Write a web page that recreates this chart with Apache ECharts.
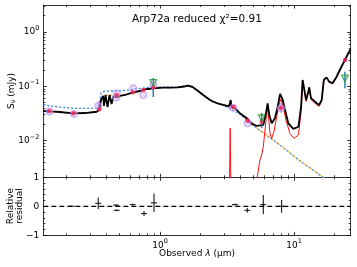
<!DOCTYPE html>
<html><head><meta charset="utf-8">
<script src="https://cdn.jsdelivr.net/npm/echarts@6/dist/echarts.min.js"></script>
<style>html,body{margin:0;padding:0;background:#fff}#c{width:357px;height:267px}</style>
</head><body><div id="c"></div>
<script>
// ---- data (wavelength in micron, flux in mJy) ----
const blackSed = [[0.135,0.0351],[0.151,0.0344],[0.179,0.0336],[0.224,0.0318],[0.275,0.0322],[0.337,0.0340],[0.351,0.0366],[0.363,0.0560],[0.376,0.0663],[0.382,0.0434],[0.392,0.0692],[0.406,0.0416],[0.420,0.0692],[0.435,0.0472],[0.450,0.0663],[0.475,0.0627],[0.503,0.0663],[0.548,0.0692],[0.597,0.0743],[0.651,0.0785],[0.709,0.0819],[0.747,0.0855],[0.813,0.0892],[0.887,0.0918],[1.05,0.0942],[1.19,0.0942],[1.36,0.0959],[1.51,0.0991],[1.62,0.1026],[1.73,0.0991],[1.88,0.0855],[2.10,0.0692],[2.36,0.0560],[2.50,0.0520],[2.57,0.0492],[2.71,0.0482],[2.97,0.0453],[3.27,0.0425],[3.33,0.0423],[3.37,0.0560],[3.41,0.0421],[3.45,0.0419],[3.69,0.0382],[3.95,0.0318],[4.44,0.0258],[4.83,0.0208],[5.27,0.0186],[5.90,0.0194],[6.18,0.0322],[6.36,0.0486],[6.54,0.0296],[6.82,0.0208],[7.21,0.0258],[7.56,0.0421],[7.87,0.0722],[8.24,0.0560],[8.57,0.0366],[9.07,0.0208],[9.88,0.0164],[10.8,0.0180],[11.3,0.0421],[11.6,0.131],[11.9,0.0918],[12.3,0.0560],[12.7,0.0743],[13.0,0.0959],[13.4,0.0601],[13.9,0.0560],[14.8,0.0486],[15.4,0.0453],[16.1,0.0560],[16.7,0.131],[17.5,0.146],[18.3,0.122],[19.4,0.114],[20.8,0.150],[22.3,0.215],[24.0,0.305],[25.4,0.405],[26.5,0.480]];
const dustSed = [[3.0,0.0005],[3.28,0.0008],[3.30,0.0015],[3.34,0.0169],[3.38,0.0015],[3.40,0.0008],[4.0,0.0006],[5.0,0.0009],[5.32,0.0021],[5.42,0.00287],[5.57,0.00439],[5.74,0.00543],[5.90,0.00773],[6.08,0.0157],[6.32,0.0421],[6.50,0.0240],[6.62,0.0136],[6.82,0.0110],[7.09,0.0146],[7.43,0.0276],[7.77,0.0486],[8.0,0.0580],[8.32,0.0421],[8.71,0.0240],[9.33,0.0136],[10.0,0.0110],[10.8,0.0127],[11.3,0.0340],[11.6,0.124],[11.9,0.0870],[12.3,0.0525],[12.7,0.0710],[13.0,0.0920],[13.4,0.0570],[13.9,0.0525],[14.8,0.0455],[15.4,0.0430],[16.1,0.0540],[16.7,0.128],[17.5,0.143],[18.3,0.119],[19.4,0.111],[20.8,0.147],[22.3,0.212],[24.0,0.302],[25.4,0.402],[26.5,0.477]];
const stellarAtt = [[0.135,0.0351],[0.151,0.0344],[0.179,0.0336],[0.224,0.0318],[0.275,0.0322],[0.337,0.0340],[0.351,0.0366],[0.363,0.0560],[0.376,0.0663],[0.406,0.0690],[0.435,0.0680],[0.475,0.0650],[0.503,0.0663],[0.548,0.0692],[0.597,0.0743],[0.651,0.0785],[0.709,0.0819],[0.747,0.0855],[0.813,0.0892],[0.887,0.0918],[1.05,0.0942],[1.19,0.0942],[1.36,0.0959],[1.51,0.0991],[1.62,0.1026],[1.73,0.0991],[1.88,0.0855],[2.10,0.0692],[2.36,0.0560],[2.57,0.0492],[2.97,0.0453],[3.45,0.0410],[3.95,0.0318],[4.69,0.0208],[6.08,0.0132],[7.87,0.0083],[11.1,0.00421],[16.5,0.00211],[26.6,0.000915]];
const stellarUnatt = [[0.135,0.0466],[0.151,0.0434],[0.179,0.0416],[0.224,0.0394],[0.275,0.0391],[0.338,0.0398],[0.354,0.0492],[0.363,0.0753],[0.376,0.0802],[0.424,0.0819],[0.475,0.0819],[0.548,0.0837],[0.651,0.0892],[0.773,0.0931],[0.887,0.0971],[1.05,0.0963],[1.36,0.0971],[1.62,0.1035],[1.88,0.0862],[2.36,0.0564],[2.97,0.0447],[3.95,0.0309],[4.69,0.0208],[6.08,0.0132],[7.87,0.0083],[11.1,0.00421],[16.5,0.00211],[26.6,0.000915]];
const modelFluxes = [[0.149,0.0351],[0.225,0.0318],[0.352,0.0377],[0.475,0.0692],[0.625,0.0776],[0.750,0.0855],[0.891,0.0959],[3.52,0.0416],[4.51,0.0232],[5.74,0.0223],[8.0,0.0398],[24.0,0.305]];
const obsFluxes = [[0.150,0.0344],[0.228,0.0309],[0.346,0.0434],[0.475,0.0743],[0.470,0.0617],[0.632,0.0918],[0.750,0.0692],[0.891,0.106],[3.52,0.0404],[4.51,0.0208],[8.0,0.0394]];
const obsErr = [[0.346,0.037,0.052],[8.0,0.0322,0.049]];          // [wl, low, high]
const obsGreen = [[0.891,0.116],[5.74,0.0258],[24.0,0.140]];
const greenErr = [[0.891,0.0637,0.142],[5.74,0.0171,0.0322],[24.0,0.0918,0.186]];
const residuals = [[0.219,0.0,0.02],[0.346,0.10,0.20],[0.470,0.04,0.03],[0.475,-0.14,0.03],[0.625,0.06,0.03],[0.760,-0.25,0.08],[0.902,0.12,0.32],[3.63,0.06,0.03],[4.48,-0.14,0.08],[5.90,0.06,0.33],[8.09,0.0,0.22]]; // [wl, value, err]
const xMajorTicks = [1, 10];
const xMinorTicks = [0.2,0.3,0.4,0.5,0.6,0.7,0.8,0.9,2,3,4,5,6,7,8,9,20];
const yMajorTicks = [0.01, 0.1, 1];
const yMinorTicks = [0.003,0.004,0.005,0.006,0.007,0.008,0.009,0.02,0.03,0.04,0.05,0.06,0.07,0.08,0.09,0.2,0.3,0.4,0.5,0.6,0.7,0.8,0.9,2,3];
const rMajorTicks = [-1, 0, 1];
const rMinorTicks = [-0.8,-0.6,-0.4,-0.2,0.2,0.4,0.6,0.8];
const X_MIN = 0.1346, X_MAX = 26.5, Y_MIN = 0.00211, Y_MAX = 3.14;
const titleText = 'Arp72a reduced \u03c7\u00b2=0.91';

// ---- chart ----
const FONT = 'DejaVu Sans';
const chart = echarts.init(document.getElementById('c'), null, {renderer:'canvas'});
function supFmt(v){ const e = Math.round(Math.log10(v)); return '{b|10}{s|' + (e < 0 ? '\u2212' + (-e) : e) + '}'; }
const supRich = {b:{fontSize:9,fontFamily:FONT,color:'#000',lineHeight:14}, s:{fontSize:6.5,fontFamily:FONT,color:'#000',lineHeight:7,verticalAlign:'top'}};
const LINE = {color:'#333', width:1};
function xa(grid, pos, ticks, len, showLine, showLabel){
  return {type:'log', logBase:10, gridIndex:grid, position:pos, min:X_MIN, max:X_MAX,
    axisLine:{show:showLine, onZero:false, lineStyle:LINE},
    axisTick:{show:true, inside:true, length:len, customValues:ticks, lineStyle:{color:'#000', width:0.8}},
    axisLabel:{show:showLabel, customValues:xMajorTicks, formatter:supFmt, rich:supRich, margin:3},
    splitLine:{show:false}};
}
function ya(grid, pos, type, ticks, len, showLine, label){
  const o = {type:type, gridIndex:grid, position:pos,
    axisLine:{show:showLine, onZero:false, lineStyle:LINE},
    axisTick:{show:true, inside:true, length:len, customValues:ticks, lineStyle:{color:'#000', width:0.8}},
    axisLabel:label || {show:false}, splitLine:{show:false}};
  if (type === 'log') { o.logBase = 10; o.min = Y_MIN; o.max = Y_MAX; } else { o.min = -1; o.max = 1; }
  return o;
}
const mainLabel = {show:true, customValues:yMajorTicks, formatter:supFmt, rich:supRich, margin:4};
const resLabel = {show:true, customValues:rMajorTicks, formatter:v => String(v).replace('-', '\u2212'), fontSize:9, fontFamily:FONT, color:'#000', margin:4};

function errSeries(data, xi, yi, color, w, z){
  return {type:'custom', xAxisIndex:xi, yAxisIndex:yi, data:data, z:z, clip:true, silent:true,
    encode:{x:0, y:[1,2]},
    renderItem:(p, api) => {
      const a = api.coord([api.value(0), api.value(1)]);
      const b = api.coord([api.value(0), api.value(2)]);
      return {type:'line', shape:{x1:a[0], y1:a[1], x2:b[0], y2:b[1]}, style:{stroke:color, lineWidth:w}};
    }};
}
function lineSeries(data, lineStyle, z){
  return {type:'line', xAxisIndex:0, yAxisIndex:0, data:data, showSymbol:false, symbol:'none', clip:true, z:z, silent:true, lineStyle:lineStyle};
}
const resErrData = residuals.map(r => [r[0], r[1] - r[2], r[1] + r[2]]);
const resPts = residuals.map(r => [r[0], r[1]]);

chart.setOption({
  animation:false,
  backgroundColor:'#fff',
  grid:[{left:43.3, top:5, width:307.4, height:172.3}, {left:43.3, top:177.3, width:307.4, height:58}],
  xAxis:[
    xa(0,'bottom',xMajorTicks,3.5,true,false), xa(0,'top',xMajorTicks,3.5,true,false),
    xa(0,'bottom',xMinorTicks,2,false,false), xa(0,'top',xMinorTicks,2,false,false),
    xa(1,'bottom',xMajorTicks,3.5,true,true), xa(1,'top',xMajorTicks,3.5,true,false),
    xa(1,'bottom',xMinorTicks,2,false,false), xa(1,'top',xMinorTicks,2,false,false)
  ],
  yAxis:[
    ya(0,'left','log',yMajorTicks,3.5,true,mainLabel), ya(0,'right','log',yMajorTicks,3.5,true),
    ya(0,'left','log',yMinorTicks,2,false), ya(0,'right','log',yMinorTicks,2,false),
    ya(1,'left','value',rMajorTicks,3.5,true,resLabel), ya(1,'right','value',rMajorTicks,3.5,true),
    ya(1,'left','value',rMinorTicks,2,false), ya(1,'right','value',rMinorTicks,2,false)
  ],
  series:[
    lineSeries(stellarUnatt, {color:'#2a86f0', width:1.3, type:[2,2]}, 2),
    lineSeries(stellarAtt, {color:'#f5b020', width:1.3, type:[2,2], dashOffset:2}, 3),
    lineSeries(dustSed, {color:'#ff1010', width:1}, 4),
    lineSeries(blackSed, {color:'#000', width:1.8}, 5),
    errSeries(obsErr, 0, 0, '#a98be6', 1.2, 6),
    errSeries(greenErr, 0, 0, '#1f77b4', 1.4, 6),
    {type:'scatter', xAxisIndex:0, yAxisIndex:0, data:obsFluxes, symbol:'circle', symbolSize:7, z:7, silent:true,
      itemStyle:{color:'rgba(205,175,250,0.6)', borderColor:'#b48cf0', borderWidth:1}},
    {type:'scatter', xAxisIndex:0, yAxisIndex:0, data:modelFluxes, symbol:'circle', symbolSize:4.5, z:8, silent:true,
      itemStyle:{color:'#f5234f'}},
    {type:'scatter', xAxisIndex:0, yAxisIndex:0, data:obsGreen, symbol:'triangle', symbolRotate:180, symbolSize:6.5, z:9, silent:true,
      itemStyle:{color:'rgba(0,0,0,0)', borderColor:'#1f9a2a', borderWidth:1.3}},
    {type:'line', xAxisIndex:4, yAxisIndex:4, data:[[X_MIN,0],[X_MAX,0]], showSymbol:false, symbol:'none', z:3, silent:true,
      lineStyle:{color:'#000', width:1.3, type:[5,3]}},
    errSeries(resErrData, 4, 4, '#000', 1, 5),
    {type:'scatter', xAxisIndex:4, yAxisIndex:4, data:resPts, symbol:'rect', symbolSize:[6,1.2], z:6, silent:true,
      itemStyle:{color:'#000'}}
  ],
  graphic:[
    {type:'text', x:197, y:19, silent:true, style:{text:titleText, fill:'#000', font:'10.5px "DejaVu Sans"', align:'center', verticalAlign:'middle'}},
    {type:'text', x:12, y:91, rotation:Math.PI/2, silent:true, style:{text:'S{sub|\u03bd} (mJy)', fill:'#000', font:'9px "DejaVu Sans"', align:'center', verticalAlign:'middle',
      rich:{sub:{fontSize:6.5, fontFamily:FONT, verticalAlign:'bottom', lineHeight:10}}}},
    {type:'text', x:15, y:206, rotation:Math.PI/2, silent:true, style:{text:'Relative\nresidual', fill:'#000', font:'9px "DejaVu Sans"', align:'center', verticalAlign:'middle', lineHeight:9.5}},
    {type:'text', x:197, y:254, silent:true, style:{text:'Observed {i|\u03bb} (\u03bcm)', fill:'#000', font:'9px "DejaVu Sans"', align:'center', verticalAlign:'middle',
      rich:{i:{fontStyle:'italic', fontSize:9, fontFamily:FONT}}}}
  ]
});
</script></body></html>
